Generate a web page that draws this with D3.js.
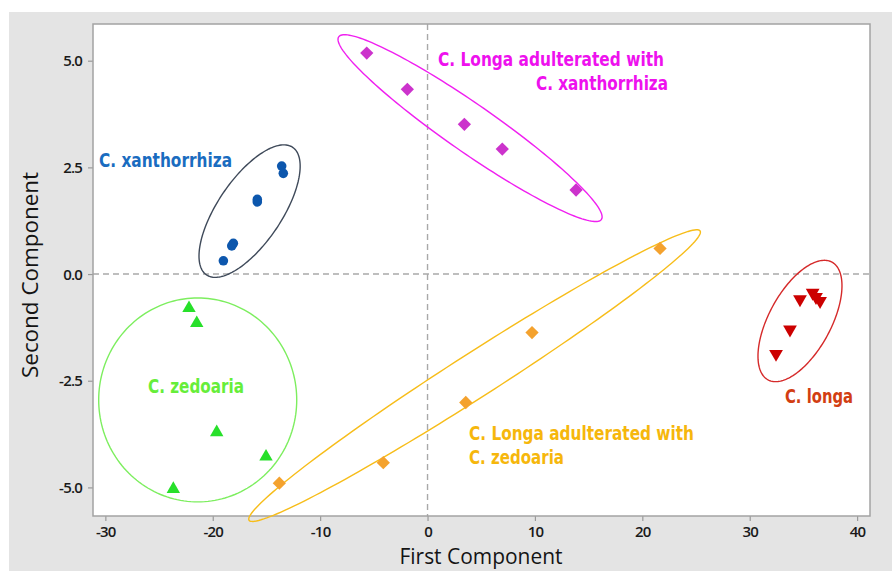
<!DOCTYPE html>
<html>
<head>
<meta charset="utf-8">
<script src="https://cdn.jsdelivr.net/npm/d3@7"></script>
<style>
  body { margin: 0; background: #ffffff; }
  svg { display: block; }
</style>
</head>
<body>
<svg id="chart" width="892" height="571"></svg>
<script>
// Axis ticks
const xTicks = [-30, -20, -10, 0, 10, 20, 30, 40];
const yTicks = [-5, -2.5, 0, 2.5, 5];

// PCA scores: [first component, second component]
const xanthorrhizaScores = [
  [-13.58, 2.53], [-13.43, 2.36], [-15.85, 1.75], [-15.85, 1.69],
  [-18.08, 0.72], [-18.23, 0.66], [-19.01, 0.31]
];
const longaXanthScores = [
  [-5.66, 5.18], [-1.88, 4.33], [3.43, 3.51], [6.96, 2.93], [13.83, 1.97]
];
const zedoariaScores = [
  [-22.21, -0.80], [-21.49, -1.15], [-19.63, -3.71], [-15.04, -4.28], [-23.67, -5.04]
];
const longaZedoScores = [
  [-13.80, -4.90], [-4.12, -4.42], [3.56, -3.01], [9.73, -1.37], [21.65, 0.60]
];
const longaScores = [
  [34.68, -0.59], [35.86, -0.44], [36.17, -0.54], [36.55, -0.63],
  [33.75, -1.30], [32.45, -1.87]
];

// Group ellipses in data units: centre and two conjugate half-axis vectors
const xanthorrhizaEllipse = { c: [-16.57, 1.475], u: [4.01, 1.495], v: [2.47, -0.419] };
const longaXanthEllipse   = { c: [3.96, 3.42],    u: [12.23, -2.14], v: [-1.275, -0.461] };
const zedoariaEllipse     = { c: [-21.4, -2.95],  u: [9.22, 0],      v: [0, 2.39] };
const longaZedoEllipse    = { c: [4.38, -2.38],   u: [21.0, 3.39],   v: [1.106, -0.434] };
const longaEllipse        = { c: [34.68, -1.10],  u: [2.977, 1.379], v: [2.536, -0.346] };

const W = 892, H = 571;
const plot = { left: 93, right: 870, top: 24, bottom: 516 };

const x = d3.scaleLinear().domain([-31.15, 41.2]).range([plot.left, plot.right]);
const y = d3.scaleLinear().domain([5.86, -5.67]).range([plot.top, plot.bottom]);

const svg = d3.select("#chart");

// panel background
svg.append("rect").attr("x", 9).attr("y", 12).attr("width", W - 9).attr("height", H - 12)
  .attr("fill", "#e4e4e4");
svg.append("rect").attr("x", plot.left).attr("y", plot.top)
  .attr("width", plot.right - plot.left).attr("height", plot.bottom - plot.top)
  .attr("fill", "#ffffff");

// reference lines at zero
const refStyle = s => s.attr("stroke", "#a9a9a9").attr("stroke-width", 1.4).attr("stroke-dasharray", "6,4");
svg.append("line").attr("x1", x(0)).attr("x2", x(0)).attr("y1", plot.top).attr("y2", plot.bottom).call(refStyle);
svg.append("line").attr("x1", plot.left).attr("x2", plot.right).attr("y1", y(0)).attr("y2", y(0)).call(refStyle);

// axes (plain hyphen for negative tick values)
const hyphen = f => d => f(d).replace("\u2212", "-");
const tickFont = "'Open Sans', 'Noto Sans', sans-serif";
const xAxis = svg.append("g").attr("transform", `translate(0,${plot.bottom})`)
  .call(d3.axisBottom(x).tickValues(xTicks).tickFormat(hyphen(d3.format("d"))).tickSize(5).tickPadding(5));
const yAxis = svg.append("g").attr("transform", `translate(${plot.left},0)`)
  .call(d3.axisLeft(y).tickValues(yTicks).tickFormat(hyphen(d3.format(".1f"))).tickSize(5).tickPadding(6));
[xAxis, yAxis].forEach(a => {
  a.select(".domain").remove();
  a.selectAll(".tick line").attr("stroke", "#9a9a9a").attr("stroke-width", 1.2);
  a.selectAll(".tick text").attr("fill", "#1a1a1a").attr("font-family", tickFont)
    .attr("font-size", 15).attr("font-weight", 600).style("letter-spacing", "-0.8px");
});
yAxis.selectAll(".tick text").attr("dy", "0.34em");

// frame
svg.append("rect").attr("x", plot.left).attr("y", plot.top)
  .attr("width", plot.right - plot.left).attr("height", plot.bottom - plot.top)
  .attr("fill", "none").attr("stroke", "#a3a3a3").attr("stroke-width", 1.5);

// axis titles
svg.append("text").attr("x", 481).attr("y", 564).attr("text-anchor", "middle")
  .attr("font-family", tickFont).attr("font-size", 21).attr("fill", "#141414")
  .attr("textLength", 163).attr("lengthAdjust", "spacingAndGlyphs")
  .text("First Component");
svg.append("text").attr("transform", "translate(38,275) rotate(-90)").attr("text-anchor", "middle")
  .attr("font-family", tickFont).attr("font-size", 21).attr("fill", "#141414")
  .attr("textLength", 206).attr("lengthAdjust", "spacingAndGlyphs")
  .text("Second Component");

// ellipses
const ellipsePath = e => {
  const pts = d3.range(0, 180).map(i => {
    const t = i / 180 * 2 * Math.PI;
    return [x(e.c[0] + e.u[0] * Math.cos(t) + e.v[0] * Math.sin(t)),
            y(e.c[1] + e.u[1] * Math.cos(t) + e.v[1] * Math.sin(t))];
  });
  return d3.line().curve(d3.curveLinearClosed)(pts);
};

const groups = [
  { scores: xanthorrhizaScores, ellipse: xanthorrhizaEllipse, symbol: d3.symbolCircle, size: 72, rot: 0,
    fill: "#0d57ad", ring: "#3f4a5a" },
  { scores: longaXanthScores, ellipse: longaXanthEllipse, symbol: d3.symbolSquare, size: 88, rot: 45,
    fill: "#cc33cc", ring: "#f020f0" },
  { scores: zedoariaScores, ellipse: zedoariaEllipse, symbol: d3.symbolTriangle, size: 78, rot: 0,
    fill: "#27e02a", ring: "#7dee5f" },
  { scores: longaZedoScores, ellipse: longaZedoEllipse, symbol: d3.symbolSquare, size: 88, rot: 45,
    fill: "#f4a22e", ring: "#f7bd1a" },
  { scores: longaScores, ellipse: longaEllipse, symbol: d3.symbolTriangle, size: 82, rot: 180,
    fill: "#cc0000", ring: "#d52a2a" }
];

groups.forEach(g => {
  svg.append("path").attr("d", ellipsePath(g.ellipse))
    .attr("fill", "none").attr("stroke", g.ring).attr("stroke-width", 1.4);
});
groups.forEach(g => {
  svg.append("g").selectAll("path").data(g.scores).join("path")
    .attr("transform", d => `translate(${x(d[0])},${y(d[1])}) rotate(${g.rot})`)
    .attr("d", d3.symbol().type(g.symbol).size(g.size))
    .attr("fill", g.fill);
});

// group labels
const labelFont = "'Liberation Sans Narrow', 'DejaVu Sans Condensed', 'Arial Narrow', sans-serif";
const labels = [
  { text: "C. xanthorrhiza", px: 99, py: 167, w: 133, color: "#1a6cc0" },
  { text: "C. Longa adulterated with", px: 438, py: 66, w: 226, color: "#ee11ee" },
  { text: "C. xanthorrhiza", px: 536, py: 90, w: 132, color: "#ee11ee" },
  { text: "C. zedoaria", px: 148, py: 393, w: 96, color: "#66ee3a" },
  { text: "C. Longa adulterated with", px: 469, py: 440, w: 225, color: "#f6b70c" },
  { text: "C. zedoaria", px: 469, py: 464, w: 95, color: "#f6b70c" },
  { text: "C. longa", px: 785, py: 403, w: 68, color: "#d23e12" }
];
svg.append("g").selectAll("text").data(labels).join("text")
  .attr("x", d => d.px).attr("y", d => d.py)
  .attr("font-family", labelFont).attr("font-weight", 700).attr("font-size", 20)
  .attr("fill", d => d.color)
  .attr("textLength", d => d.w).attr("lengthAdjust", "spacingAndGlyphs")
  .text(d => d.text);
</script>
</body>
</html>
